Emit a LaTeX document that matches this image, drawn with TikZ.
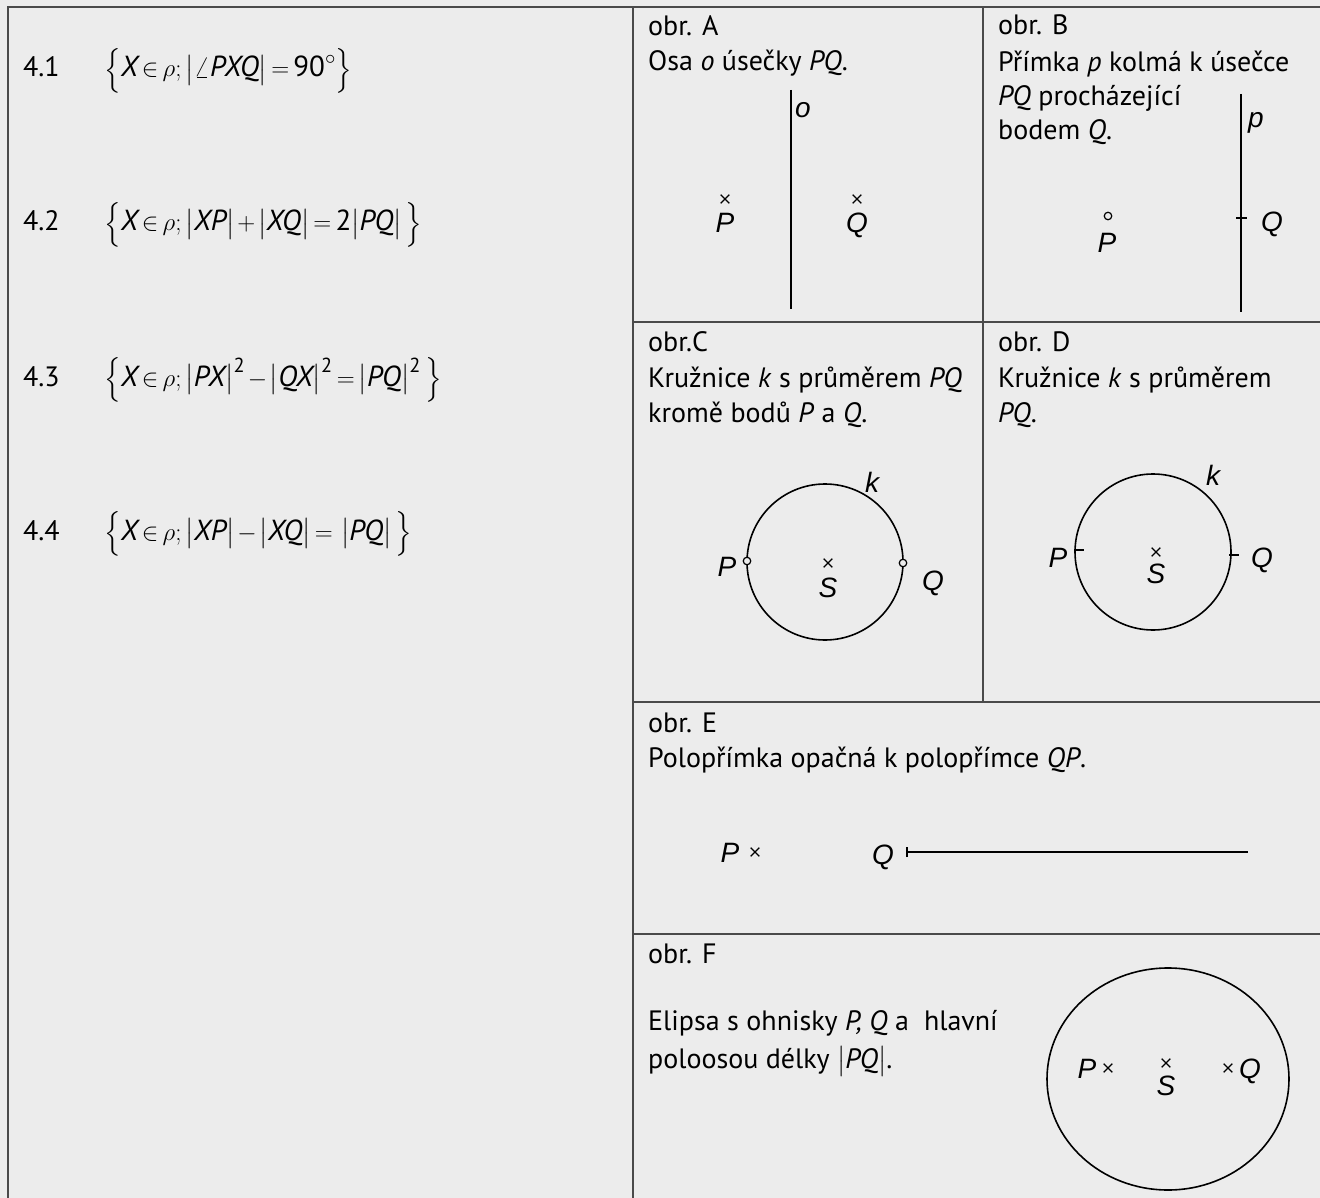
\documentclass[tikz,border=0pt]{standalone}
\usepackage{amsmath}
\usepackage{fontspec}
\setmainfont{PT Sans}
\newfontfamily\lblfont{Liberation Sans}
\usetikzlibrary{shapes.misc}
\definecolor{bg}{HTML}{ECECEC}
\definecolor{frm}{HTML}{4A4A4A}
\newcommand{\tightmath}{\thickmuskip=3mu\relax\medmuskip=2mu\relax}
\begin{document}
\begin{tikzpicture}[x=1pt,y=-1pt,
  frame/.style={draw=frm,line width=2pt},
  geo/.style={draw=black,line width=1.6pt},
  txt/.style={font=\fontsize{28}{34}\selectfont,inner sep=0pt,anchor=base west},
  fml/.style={font=\fontsize{29}{34}\selectfont\tightmath,inner sep=0pt,anchor=base west},
  lbl/.style={font=\lblfont\itshape\fontsize{28}{30}\selectfont,inner sep=0pt,anchor=base},
  xmark/.style={draw=black,cross out,line width=1.2pt,minimum size=7.5pt,inner sep=0pt},
  omark/.style={draw=black,circle,line width=1.2pt,minimum size=7.5pt,inner sep=0pt,fill=bg}]
\fill[bg] (0,0) rectangle (1320,1198);
\useasboundingbox (0,0) rectangle (1320,1198);
% frame
\draw[frame] (8,1198) -- (8,7) -- (1320,7);
\draw[frame] (633,7) -- (633,1198);
\draw[frame] (983,7) -- (983,702);
\draw[frame] (633,322) -- (1320,322);
\draw[frame] (633,702) -- (1320,702);
\draw[frame] (633,934) -- (1320,934);
% left column
\node[txt] (n1) at (23,77) {4.1};
\node[txt] (n2) at (23,231) {4.2};
\node[txt] (n3) at (23,386) {4.3};
\node[txt] (n4) at (23,540) {4.4};
\node[fml] (f1) at (104,77) {$\Bigl\{\textit{X}\in\rho;\bigl|\angle\textit{PXQ}\bigr|=\text{90}^\circ\Bigr\}$};
\node[fml] (f2) at (104,231) {$\Bigl\{\textit{X}\in\rho;\bigl|\textit{XP}\bigr|+\bigl|\textit{XQ}\bigr|=\text{2}\bigl|\textit{PQ}\bigr|\,\Bigr\}$};
\node[fml] (f3) at (104,386) {$\Bigl\{\textit{X}\in\rho;\bigl|\textit{PX}\bigr|^{\text{2}}-\bigl|\textit{QX}\bigr|^{\text{2}}=\bigl|\textit{PQ}\bigr|^{\text{2}}\,\Bigr\}$};
\node[fml] (f4) at (104,540) {$\Bigl\{\textit{X}\in\rho;\bigl|\textit{XP}\bigr|-\bigl|\textit{XQ}\bigr|=\,\bigl|\textit{PQ}\bigr|\,\Bigr\}$};
% obr A
\node[txt] (a1) at (648,36) {obr. A};
\node[txt] (a2) at (648,71) {Osa \textit{o} úsečky \textit{PQ}.};
\coordinate (ot) at (791,90);
\coordinate (ob) at (791,309);
\draw[geo] (ot) -- (ob);
\node[lbl] (ol) at (803,118) {o};
\node[xmark] (aP) at (725,199) {};
\node[lbl] (aPl) at (725,233) {P};
\node[xmark] (aQ) at (857,199) {};
\node[lbl] (aQl) at (857,233) {Q};
% obr B
\node[txt] (b1) at (998,35) {obr. B};
\node[txt] (b2) at (998,72) {Přímka \textit{p} kolmá k úsečce};
\node[txt] (b3) at (998,106) {\textit{PQ} procházející};
\node[txt] (b4) at (998,140) {bodem \textit{Q}.};
\coordinate (pt) at (1241,94);
\coordinate (pb) at (1241,312);
\draw[geo] (pt) -- (pb);
\node[lbl] (pl) at (1256,128) {p};
\coordinate (bQ) at (1241,218);
\draw[geo] ([xshift=-5pt]bQ) -- ([xshift=6pt]bQ);
\node[lbl] (bQl) at (1272,232) {Q};
\node[omark] (bP) at (1108,216) {};
\node[lbl] (bPl) at (1107,253) {P};
% obr C
\node[txt] (c1) at (648,352) {obr.C};
\node[txt] (c2) at (648,387) {Kružnice \textit{k} s průměrem \textit{PQ}};
\node[txt] (c3) at (648,422) {kromě bodů \textit{P} a \textit{Q}.};
\coordinate (cS) at (825,562);
\draw[geo] (cS) circle[radius=78pt];
\node[omark] (cP) at (747,561) {};
\node[omark] (cQ) at (903,563) {};
\node[lbl] (cPl) at (727,576) {P};
\node[lbl] (cQl) at (933,590) {Q};
\node[lbl] (ck) at (872,492) {k};
\node[xmark] (cSx) at (828,563) {};
\node[lbl] (cSl) at (828,597) {S};
% obr D
\node[txt] (d1) at (998,352) {obr. D};
\node[txt] (d2) at (998,387) {Kružnice \textit{k} s průměrem};
\node[txt] (d3) at (998,422) {\textit{PQ}.};
\coordinate (dS) at (1153,552);
\draw[geo] (dS) circle[radius=78pt];
\coordinate (dP) at (1075,550);
\coordinate (dQ) at (1231,555);
\draw[geo] ([xshift=-1pt]dP) -- ([xshift=9pt]dP);
\draw[geo] ([xshift=-2pt]dQ) -- ([xshift=8pt]dQ);
\node[lbl] (dPl) at (1058,567) {P};
\node[lbl] (dQl) at (1262,567) {Q};
\node[lbl] (dk) at (1213,485) {k};
\node[xmark] (dSx) at (1156,552) {};
\node[lbl] (dSl) at (1156,583) {S};
% obr E
\node[txt] (e1) at (648,732) {obr. E};
\node[txt] (e2) at (648,767) {Polopřímka opačná k polopřímce \textit{QP}.};
\node[lbl] (ePl) at (730,862) {P};
\node[xmark] (eP) at (755,852) {};
\node[lbl] (eQl) at (883,864) {Q};
\coordinate (eQ) at (907,852);
\coordinate (eEnd) at (1248,852);
\draw[geo] (eQ) -- (eEnd);
\draw[geo] ([yshift=-5pt]eQ) -- ([yshift=5pt]eQ);
% obr F
\node[txt] (g1) at (648,963) {obr. F};
\node[txt] (g2) at (648,1030) {Elipsa s ohnisky \textit{P, Q} a\ \ hlavní};
\node[txt] (g3) at (648,1068) {poloosou délky $\bigl|\textit{PQ}\bigr|$.};
\coordinate (gS) at (1168,1079);
\draw[geo] (gS) ellipse[x radius=121pt,y radius=111pt];
\node[lbl] (gPl) at (1087,1078) {P};
\node[xmark] (gP) at (1108,1068) {};
\node[xmark] (gSx) at (1166,1063) {};
\node[lbl] (gSl) at (1166,1095) {S};
\node[xmark] (gQ) at (1228,1068) {};
\node[lbl] (gQl) at (1250,1078) {Q};
\end{tikzpicture}
\end{document}
